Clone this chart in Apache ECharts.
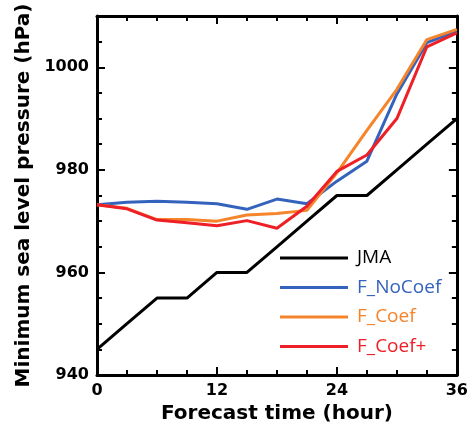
<!DOCTYPE html>
<html>
<head>
<meta charset="utf-8">
<script src="https://cdn.jsdelivr.net/npm/echarts@6/dist/echarts.min.js"></script>
<style>
html,body{margin:0;padding:0;background:#fff;}
#chart{width:471px;height:432px;}
</style>
</head>
<body>
<div id="chart"></div>
<script>
// Forecast time (hour)
const hours = [0, 3, 6, 9, 12, 15, 18, 21, 24, 27, 30, 33, 36];
const seriesNames = ['JMA', 'F_NoCoef', 'F_Coef', 'F_Coef+'];
const jma      = [945, 950, 955, 955, 960, 960, 965, 970, 975, 975, 980, 985, 990];
const fNoCoef  = [973.2, 973.7, 973.9, 973.7, 973.4, 972.3, 974.3, 973.4, 977.8, 981.7, 994.8, 1004.8, 1007.0];
const fCoef    = [973.2, 972.5, 970.3, 970.3, 970.0, 971.2, 971.5, 972.1, 979.4, 987.7, 995.7, 1005.4, 1007.4];
const fCoefP   = [973.2, 972.4, 970.2, 969.7, 969.1, 970.1, 968.6, 972.9, 979.7, 982.9, 990.0, 1004.0, 1006.7];
const xTickLabels = [0, 12, 24, 36];
const yTickLabels = [940, 960, 980, 1000];

const colors = ['#000000', '#3463bd', '#f5842b', '#ee1f26'];
const allData = [jma, fNoCoef, fCoef, fCoefP];

const boldFont = 'DejaVu Sans';
const chart = echarts.init(document.getElementById('chart'), null, {renderer: 'canvas'});

function mkY(pos, major, showLabel, name) {
  return {
    type: 'value', position: pos, min: 940, max: 1010,
    interval: major ? 20 : 5,
    name: name || '', nameLocation: 'middle', nameGap: 62,
    nameTextStyle: {fontFamily: boldFont, fontWeight: 'bold', fontSize: 20, color: '#000'},
    axisLine: {show: !major, lineStyle: {color: '#000', width: 3}},
    axisTick: {show: true, inside: true, length: major ? 8 : 5, lineStyle: {color: '#000', width: 2}},
    axisLabel: {
      show: showLabel, margin: 8, fontFamily: boldFont, fontWeight: 'bold', fontSize: 16, color: '#000',
      formatter: v => (yTickLabels.indexOf(v) >= 0 ? String(v) : '')
    },
    splitLine: {show: false}
  };
}
function mkX(pos, showLabel, name) {
  return {
    type: 'value', position: pos, min: 0, max: 36, interval: 12,
    name: name || '', nameLocation: 'middle', nameGap: 29,
    nameTextStyle: {fontFamily: boldFont, fontWeight: 'bold', fontSize: 20, color: '#000'},
    axisLine: {show: true, onZero: false, lineStyle: {color: '#000', width: 3}},
    axisTick: {show: true, inside: true, length: 8, lineStyle: {color: '#000', width: 2}},
    minorTick: {show: true, splitNumber: 4, length: 5, lineStyle: {color: '#000', width: 2}},
    axisLabel: {
      show: showLabel, margin: 8, fontFamily: boldFont, fontWeight: 'bold', fontSize: 16, color: '#000',
      formatter: v => (xTickLabels.indexOf(v) >= 0 ? String(v) : '')
    },
    splitLine: {show: false}
  };
}

const option = {
  backgroundColor: '#fff',
  animation: false,
  grid: {left: 97, right: 14, top: 16, bottom: 57, containLabel: false},
  xAxis: [mkX('bottom', true, 'Forecast time (hour)'), mkX('top', false)],
  yAxis: [
    mkY('left', false, true, 'Minimum sea level pressure (hPa)'),
    mkY('left', true, false),
    mkY('right', false, false),
    mkY('right', true, false)
  ],
  legend: {
    orient: 'vertical', left: 280, top: 248, padding: 0,
    itemWidth: 68, itemHeight: 3, itemGap: 9.5,
    icon: 'rect',
    textStyle: {fontFamily: 'Open Sans', fontSize: 19, lineHeight: 20, padding: [0, 0, 0, 4]},
    data: seriesNames.map((n, i) => ({name: n, itemStyle: {color: colors[i]}, textStyle: {color: colors[i]}}))
  },
  series: seriesNames.map((n, i) => ({
    name: n, type: 'line', xAxisIndex: 0, yAxisIndex: 0, symbol: 'none',
    data: hours.map((h, j) => [h, allData[i][j]]),
    lineStyle: {color: colors[i], width: 3}, itemStyle: {color: colors[i]},
    z: 2 + i
  }))
};
chart.setOption(option);
</script>
</body>
</html>
